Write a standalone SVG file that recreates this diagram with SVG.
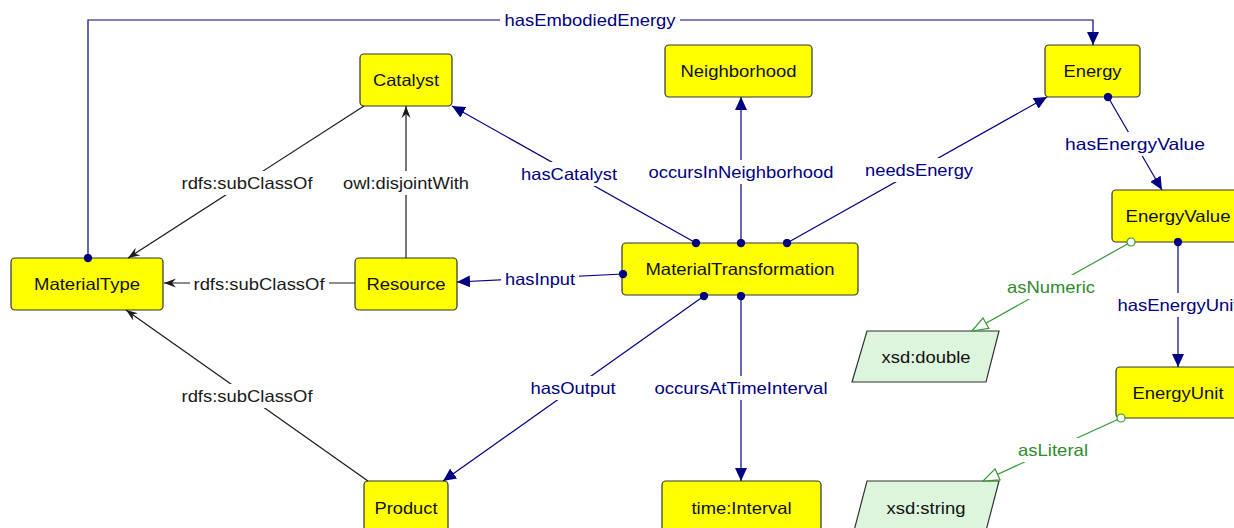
<svg xmlns="http://www.w3.org/2000/svg" width="1234" height="528" viewBox="0 0 1234 528">
<style>
  .node rect { fill: #ffff00; stroke: #333333; stroke-width: 1.2; }
  .dt polygon { fill: #dcf5dc; stroke: #333333; stroke-width: 1.2; }
  .nt { font-family: "Liberation Sans", Arial, sans-serif; font-size: 16.5px; fill: #111111; text-anchor: middle; }
  .obj { fill: none; stroke: #000080; stroke-width: 1.2; marker-start: url(#navyDot); marker-end: url(#navyArrow); }
  .sub { fill: none; stroke: #1a1a1a; stroke-width: 1.2; marker-end: url(#blackArrow); }
  .dp { fill: none; stroke: #339933; stroke-width: 1.2; marker-start: url(#greenCircle); marker-end: url(#greenOpen); }
  .lbg { fill: #ffffff; }
  .el { font-family: "Liberation Sans", Arial, sans-serif; font-size: 16.5px; text-anchor: middle; }
  .el.o { fill: #000080; }
  .el.s { fill: #1a1a1a; }
  .el.d { fill: #2e8b2e; }
</style>
<defs>
  <marker id="navyArrow" viewBox="0 0 13 12" refX="13" refY="6" markerWidth="13" markerHeight="12" orient="auto" markerUnits="userSpaceOnUse">
    <path d="M0,0 L13,6 L0,12 z" fill="#000080"/>
  </marker>
  <marker id="navyDot" viewBox="0 0 9 9" refX="4.5" refY="4.5" markerWidth="9" markerHeight="9" markerUnits="userSpaceOnUse">
    <circle cx="4.5" cy="4.5" r="4.2" fill="#000080"/>
  </marker>
  <marker id="blackArrow" viewBox="0 0 12 10" refX="12" refY="5" markerWidth="12" markerHeight="10" orient="auto" markerUnits="userSpaceOnUse">
    <path d="M0,0.5 L12,5 L0,9.5 L4,5 z" fill="#1a1a1a"/>
  </marker>
  <marker id="greenOpen" viewBox="-1 -1 18 14" refX="16" refY="6" markerWidth="18" markerHeight="14" orient="auto" markerUnits="userSpaceOnUse">
    <path d="M0,0 L16,6 L0,12 z" fill="#ffffff" stroke="#339933" stroke-width="1.2"/>
  </marker>
  <marker id="greenCircle" viewBox="0 0 10 10" refX="5" refY="5" markerWidth="10" markerHeight="10" markerUnits="userSpaceOnUse">
    <circle cx="5" cy="5" r="4" fill="#ffffff" stroke="#339933" stroke-width="1.2"/>
  </marker>
</defs>
<rect x="0" y="0" width="1234" height="528" fill="#ffffff"/>

<g id="nodes">
  <g id="MaterialType" class="node"><rect x="11" y="258" width="152" height="52" rx="4"/><text class="nt" x="87" y="290" textLength="106" lengthAdjust="spacingAndGlyphs">MaterialType</text></g>
  <g id="Catalyst" class="node"><rect x="360" y="54" width="92" height="52" rx="4"/><text class="nt" x="406" y="86" textLength="66" lengthAdjust="spacingAndGlyphs">Catalyst</text></g>
  <g id="Resource" class="node"><rect x="355" y="258" width="102" height="52" rx="4"/><text class="nt" x="406" y="290" textLength="79" lengthAdjust="spacingAndGlyphs">Resource</text></g>
  <g id="Neighborhood" class="node"><rect x="665" y="45" width="147" height="52" rx="4"/><text class="nt" x="738.5" y="77" textLength="116" lengthAdjust="spacingAndGlyphs">Neighborhood</text></g>
  <g id="Energy" class="node"><rect x="1045" y="45" width="95" height="52" rx="4"/><text class="nt" x="1092.5" y="77" textLength="58" lengthAdjust="spacingAndGlyphs">Energy</text></g>
  <g id="MaterialTransformation" class="node"><rect x="622" y="243" width="236" height="52" rx="4"/><text class="nt" x="740" y="275" textLength="189" lengthAdjust="spacingAndGlyphs">MaterialTransformation</text></g>
  <g id="EnergyValue" class="node"><rect x="1112" y="190" width="132" height="52" rx="4"/><text class="nt" x="1178" y="222" textLength="105" lengthAdjust="spacingAndGlyphs">EnergyValue</text></g>
  <g id="EnergyUnit" class="node"><rect x="1116" y="367" width="124" height="51" rx="4"/><text class="nt" x="1178" y="398.5" textLength="91" lengthAdjust="spacingAndGlyphs">EnergyUnit</text></g>
  <g id="Product" class="node"><rect x="364" y="481" width="84" height="60" rx="4"/><text class="nt" x="406" y="514" textLength="63" lengthAdjust="spacingAndGlyphs">Product</text></g>
  <g id="timeInterval" class="node"><rect x="662" y="481" width="159" height="60" rx="4"/><text class="nt" x="741.5" y="514" textLength="100" lengthAdjust="spacingAndGlyphs">time:Interval</text></g>
  <g id="xsdDouble" class="dt"><polygon points="867,331 999,331 986,382 852,382"/><text class="nt" x="926" y="363" textLength="89" lengthAdjust="spacingAndGlyphs">xsd:double</text></g>
  <g id="xsdString" class="dt"><polygon points="867,481 999,481 983.6,540 851.6,540"/><text class="nt" x="926" y="514" textLength="79" lengthAdjust="spacingAndGlyphs">xsd:string</text></g>
</g>

<g id="connectors">
  <path class="obj" d="M88,258 V20 H1093 V45"/>
  <path class="sub" d="M364,106 L128,258"/>
  <path class="sub" d="M406,258 V106"/>
  <path class="sub" d="M355,283 H164"/>
  <path class="sub" d="M368,481 L126,310"/>
  <path class="obj" d="M696,243 L452,106"/>
  <path class="obj" d="M741,243 V97"/>
  <path class="obj" d="M787,243 L1047,97"/>
  <path class="obj" d="M623,274 L457,282"/>
  <path class="obj" d="M704,296 L443,481"/>
  <path class="obj" d="M741,296 V481"/>
  <path class="obj" d="M1108,97 L1162,190"/>
  <path class="obj" d="M1178,242 V367"/>
  <path class="dp" d="M1131,242 L972,331"/>
  <path class="dp" d="M1121,418 L983,481"/>

  <g id="edge-labels">
    <rect class="lbg" x="500" y="8" width="180" height="24"/><text class="el o" x="590" y="26" textLength="171" lengthAdjust="spacingAndGlyphs">hasEmbodiedEnergy</text>
    <rect class="lbg" x="178" y="171" width="139" height="24"/><text class="el s" x="247" y="189" textLength="131" lengthAdjust="spacingAndGlyphs">rdfs:subClassOf</text>
    <rect class="lbg" x="339" y="171" width="134" height="24"/><text class="el s" x="406" y="189" textLength="126" lengthAdjust="spacingAndGlyphs">owl:disjointWith</text>
    <rect class="lbg" x="190" y="272" width="139" height="24"/><text class="el s" x="259" y="290" textLength="131" lengthAdjust="spacingAndGlyphs">rdfs:subClassOf</text>
    <rect class="lbg" x="178" y="384" width="139" height="24"/><text class="el s" x="247" y="402" textLength="131" lengthAdjust="spacingAndGlyphs">rdfs:subClassOf</text>
    <rect class="lbg" x="517" y="162" width="104" height="24"/><text class="el o" x="569" y="180" textLength="96" lengthAdjust="spacingAndGlyphs">hasCatalyst</text>
    <rect class="lbg" x="647" y="160" width="193" height="24"/><text class="el o" x="741" y="178" textLength="185" lengthAdjust="spacingAndGlyphs">occursInNeighborhood</text>
    <rect class="lbg" x="861" y="158" width="116" height="24"/><text class="el o" x="919" y="176" textLength="108" lengthAdjust="spacingAndGlyphs">needsEnergy</text>
    <rect class="lbg" x="1061" y="132" width="148" height="24"/><text class="el o" x="1135" y="150" textLength="140" lengthAdjust="spacingAndGlyphs">hasEnergyValue</text>
    <rect class="lbg" x="501" y="267" width="78" height="24"/><text class="el o" x="540" y="285" textLength="70" lengthAdjust="spacingAndGlyphs">hasInput</text>
    <rect class="lbg" x="530" y="376" width="93" height="24"/><text class="el o" x="573" y="394" textLength="85" lengthAdjust="spacingAndGlyphs">hasOutput</text>
    <rect class="lbg" x="654" y="376" width="181" height="24"/><text class="el o" x="741" y="394" textLength="173" lengthAdjust="spacingAndGlyphs">occursAtTimeInterval</text>
    <rect class="lbg" x="1114" y="293" width="128" height="24"/><text class="el o" x="1178" y="311" textLength="121" lengthAdjust="spacingAndGlyphs">hasEnergyUnit</text>
    <rect class="lbg" x="1007" y="275" width="96" height="24"/><text class="el d" x="1051" y="293" textLength="88" lengthAdjust="spacingAndGlyphs">asNumeric</text>
    <rect class="lbg" x="1014" y="438" width="78" height="24"/><text class="el d" x="1053" y="456" textLength="70" lengthAdjust="spacingAndGlyphs">asLiteral</text>
  </g>
</g>
</svg>
